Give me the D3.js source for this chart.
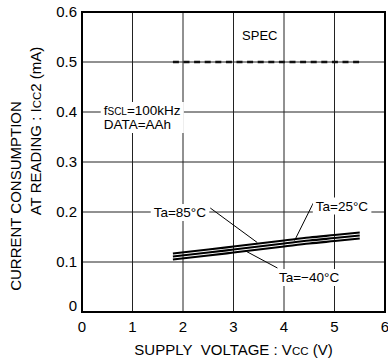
<!DOCTYPE html>
<meta charset="utf-8">
<html>
<head>
<style>
  body { margin: 0; background: #fff; }
  text { font-family: "Liberation Sans", Arial, sans-serif; fill: #000; }
</style>
</head>
<body>
<div id="chart"></div>
<script src="https://d3js.org/d3.v7.min.js"></script>
<script>

  // data
  var voltage = [1.8, 2.5, 3.0, 3.5, 4.0, 4.5, 5.0, 5.5];
  var ta85 = [0.117, 0.125, 0.131, 0.137, 0.143, 0.149, 0.154, 0.159];
  var ta25 = [0.111, 0.119, 0.125, 0.131, 0.137, 0.143, 0.148, 0.153];
  var taM40 = [0.105, 0.113, 0.119, 0.125, 0.131, 0.137, 0.142, 0.147];
  var specRange = [1.8, 5.5];
  var specValue = 0.5;
  var xTicks = [0, 1, 2, 3, 4, 5, 6];
  var yTicks = [0, 0.1, 0.2, 0.3, 0.4, 0.5, 0.6];

  var margin = {top: 12, right: 3, bottom: 51, left: 82},
      width = 388 - margin.left - margin.right,
      height = 363 - margin.top - margin.bottom;

  var svg = d3.select("#chart")
    .append("svg")
      .attr("width", 388)
      .attr("height", 363)
    .append("g")
      .attr("transform", "translate(" + margin.left + "," + margin.top + ")");

  var x = d3.scaleLinear().domain([0, 6]).range([0, width]);
  var y = d3.scaleLinear().domain([0, 0.6]).range([height, 0]);

  // grid
  svg.append("g")
    .selectAll("line")
    .data(xTicks.slice(1, -1))
    .enter().append("line")
      .attr("x1", function(d) { return x(d); })
      .attr("x2", function(d) { return x(d); })
      .attr("y1", 0).attr("y2", height)
      .attr("stroke", "#222").attr("stroke-width", 1);
  svg.append("g")
    .selectAll("line")
    .data(yTicks.slice(1, -1))
    .enter().append("line")
      .attr("y1", function(d) { return y(d); })
      .attr("y2", function(d) { return y(d); })
      .attr("x1", 0).attr("x2", width)
      .attr("stroke", "#222").attr("stroke-width", 1);

  // tick labels
  svg.append("g")
    .selectAll("text")
    .data(xTicks)
    .enter().append("text")
      .attr("x", function(d) { return x(d); })
      .attr("y", height + 20)
      .attr("text-anchor", "middle")
      .style("font-size", "15px")
      .text(function(d) { return d; });
  svg.append("g")
    .selectAll("text")
    .data(yTicks)
    .enter().append("text")
      .attr("x", -5)
      .attr("y", function(d) { return y(d); })
      .attr("dy", function(d) { return d === 0 ? "-0.05em" : "0.35em"; })
      .attr("text-anchor", "end")
      .style("font-size", "15px")
      .text(function(d) { return d === 0 ? "0" : d.toFixed(1); });

  // axis titles
  svg.append("text")
    .attr("x", x(3))
    .attr("y", height + 43)
    .attr("text-anchor", "middle")
    .style("font-size", "15px")
    .html('SUPPLY&#160; VOLTAGE : V<tspan style="font-size:11.5px">CC</tspan> (V)');

  svg.append("text")
    .attr("transform", "translate(-61," + (y(0.3) + 34) + ") rotate(-90)")
    .attr("text-anchor", "middle")
    .style("font-size", "15px")
    .text("CURRENT CONSUMPTION");
  svg.append("text")
    .attr("transform", "translate(-41," + (y(0.3) - 31) + ") rotate(-90)")
    .attr("text-anchor", "middle")
    .style("font-size", "15px")
    .html('AT READING : I<tspan style="font-size:11.5px">CC</tspan>2 (mA)');

  // spec line
  svg.append("line")
    .attr("x1", x(specRange[0])).attr("x2", x(specRange[1]))
    .attr("y1", y(specValue)).attr("y2", y(specValue))
    .attr("stroke", "#111").attr("stroke-width", 2.5)
    .attr("stroke-dasharray", "6,4.6");
  svg.append("text")
    .attr("x", x(3.17)).attr("y", y(0.545))
    .style("font-size", "13px")
    .text("SPEC");

  // label with white background
  function boxedText(tx, ty, lines) {
    var g = svg.append("g");
    var rect = g.append("rect").attr("fill", "#fff");
    var t = g.append("text").style("font-size", "13.5px");
    lines.forEach(function(l, i) {
      t.append("tspan").attr("x", tx).attr("y", ty + i * 14).html(l);
    });
    var b = t.node().getBBox();
    rect.attr("x", b.x - 3).attr("y", b.y - 1)
      .attr("width", b.width + 6).attr("height", b.height + 2);
  }

  boxedText(x(0.43), y(0.4) + 3, ['f<tspan style="font-size:10px">SCL</tspan>=100kHz', 'DATA=AAh']);

  // curves
  var curves = [ta85, ta25, taM40];
  var line = d3.line()
    .x(function(d, i) { return x(voltage[i]); })
    .y(function(d) { return y(d); })
    .curve(d3.curveMonotoneX);
  svg.append("g")
    .selectAll("path")
    .data(curves)
    .enter().append("path")
      .attr("d", line)
      .attr("fill", "none")
      .attr("stroke", "#000")
      .attr("stroke-width", 2.2);

  // leaders
  var leaders = [
    {from: [2.54, 0.208], to: [3.47, 0.139]},
    {from: [4.60, 0.222], to: [4.21, 0.143]},
    {from: [3.87, 0.088], to: [3.24, 0.122]}
  ];
  svg.append("g")
    .selectAll("line")
    .data(leaders)
    .enter().append("line")
      .attr("x1", function(d) { return x(d.from[0]); })
      .attr("y1", function(d) { return y(d.from[1]); })
      .attr("x2", function(d) { return x(d.to[0]); })
      .attr("y2", function(d) { return y(d.to[1]); })
      .attr("stroke", "#000").attr("stroke-width", 1);

  boxedText(x(1.42), y(0.2) + 5, ['Ta=85°C']);
  boxedText(x(4.63), y(0.213) + 5, ['Ta=25°C']);
  boxedText(x(3.9), y(0.07) + 5, ['Ta=\u221240°C']);

  // frame
  svg.append("rect")
    .attr("width", width).attr("height", height)
    .attr("fill", "none").attr("stroke", "#000").attr("stroke-width", 2);

</script>
</body>
</html>
